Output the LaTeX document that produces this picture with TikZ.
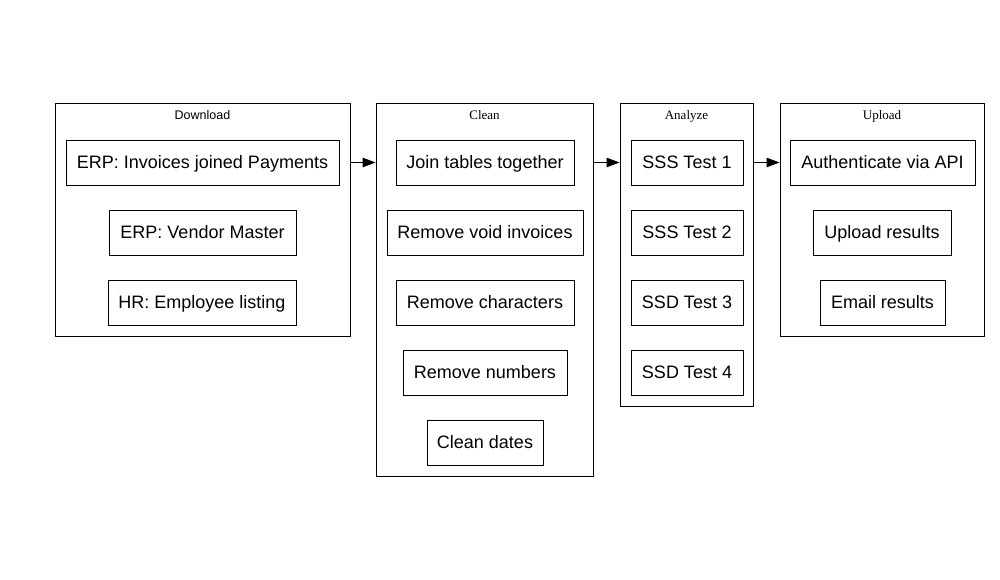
\documentclass[tikz,border=0pt]{standalone}
\usepackage{fontspec}
\setmainfont{Liberation Sans}
\newfontfamily\serifclus{Liberation Serif}
\usetikzlibrary{arrows.meta}
\begin{document}
\begin{tikzpicture}[x=1pt,y=-1pt,
  clus/.style={draw,line width=0.9pt,inner sep=0pt},
  item/.style={draw,line width=0.9pt,inner sep=0pt,text height=12.5pt,text depth=0pt,font=\fontsize{18}{20}\selectfont},
  clab/.style={inner sep=0pt,anchor=base,font=\fontsize{12.5}{14}\selectfont},
  sclab/.style={clab,font=\serifclus\fontsize{13}{14}\selectfont},
  flow/.style={line width=0.9pt,-{Triangle[length=13pt,width=9.5pt]}}]
\useasboundingbox (0,0) rectangle (1000,580);
% clusters
\node[clus,minimum width=295pt,minimum height=233pt] (cdl) at (202.5,219.5) {};
\node[clus,minimum width=217pt,minimum height=373pt] (ccl) at (484.5,289.5) {};
\node[clus,minimum width=133pt,minimum height=303pt] (can) at (686.5,254.5) {};
\node[clus,minimum width=204pt,minimum height=233pt] (cup) at (882,219.5) {};
\node[clab] (ldl) at (202.5,119.5) {Download};
\node[sclab] (lcl) at (484.5,119.5) {Clean};
\node[sclab] (lan) at (686.5,119.5) {Analyze};
\node[sclab] (lup) at (882,119.5) {Upload};
% download
\node[item,minimum width=273pt,minimum height=45pt] (d1) at (202.5,162.5) {ERP: Invoices joined Payments};
\node[item,minimum width=187pt,minimum height=45pt] (d2) at (202.5,232.5) {ERP: Vendor Master};
\node[item,minimum width=188pt,minimum height=45pt] (d3) at (202,302.5) {HR: Employee listing};
% clean
\node[item,minimum width=178pt,minimum height=45pt] (c1) at (485,162.5) {Join tables together};
\node[item,minimum width=196pt,minimum height=45pt] (c2) at (485,232.5) {Remove void invoices};
\node[item,minimum width=178pt,minimum height=45pt] (c3) at (485,302.5) {Remove characters};
\node[item,minimum width=164pt,minimum height=45pt] (c4) at (485,372.5) {Remove numbers};
\node[item,minimum width=116pt,minimum height=45pt] (c5) at (485,442.5) {Clean dates};
% analyze
\node[item,minimum width=112pt,minimum height=45pt] (a1) at (687,162.5) {SSS Test 1};
\node[item,minimum width=112pt,minimum height=45pt] (a2) at (687,232.5) {SSS Test 2};
\node[item,minimum width=112pt,minimum height=45pt] (a3) at (687,302.5) {SSD Test 3};
\node[item,minimum width=112pt,minimum height=45pt] (a4) at (687,372.5) {SSD Test 4};
% upload
\node[item,minimum width=185pt,minimum height=45pt] (u1) at (882.5,162.5) {Authenticate via API};
\node[item,minimum width=138pt,minimum height=45pt] (u2) at (882,232.5) {Upload results};
\node[item,minimum width=125pt,minimum height=45pt] (u3) at (882.5,302.5) {Email results};
% arrows
\draw[flow] (cdl.east |- d1) -- (ccl.west |- d1);
\draw[flow] (ccl.east |- c1) -- (can.west |- c1);
\draw[flow] (can.east |- a1) -- (cup.west |- a1);
\end{tikzpicture}
\end{document}
